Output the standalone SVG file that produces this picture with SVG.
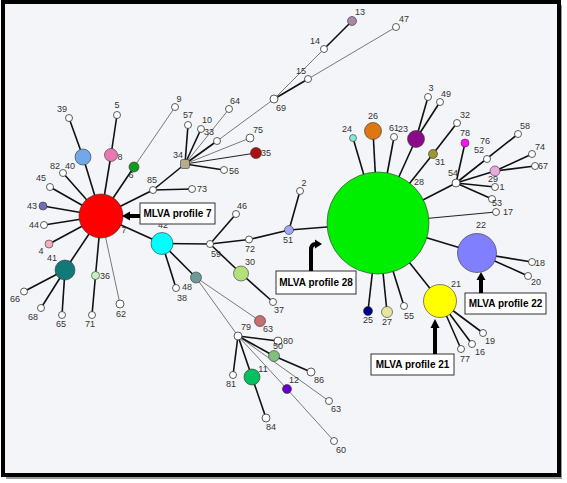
<svg xmlns="http://www.w3.org/2000/svg" width="567" height="483" viewBox="0 0 567 483">
<style>
.e{stroke:#111;stroke-width:1.6;fill:none}
.t{stroke:#444;stroke-width:0.7;fill:none}
.m{stroke:#222;stroke-width:1.1;fill:none}
.w{fill:#fff;stroke:#333;stroke-width:0.8}
.c{stroke:#333;stroke-width:0.6}
text{font-family:"Liberation Sans",Arial,sans-serif;font-size:9px;fill:#333;text-anchor:middle}
.bx{fill:#fff;stroke:#333;stroke-width:1}
.bt{font-size:10px;font-weight:bold;fill:#000}
.ar{fill:#000;stroke:none}
.as{stroke:#000;stroke-width:4;fill:none}
</style>
<rect x="6" y="5" width="556" height="474" fill="#999"/>
<rect x="3" y="2" width="556" height="473" fill="#f4f5f8" stroke="#000" stroke-width="4"/>
<g id="connectors">
<line class="e" x1="101" y1="216" x2="83" y2="157"/>
<line class="e" x1="83" y1="157" x2="69" y2="118"/>
<line class="e" x1="101" y1="216" x2="111" y2="155"/>
<line class="e" x1="111" y1="155" x2="117" y2="115"/>
<line class="e" x1="101" y1="216" x2="134" y2="167"/>
<line class="t" x1="134" y1="167" x2="175" y2="107"/>
<line class="e" x1="101" y1="216" x2="153" y2="190"/>
<line class="e" x1="153" y1="190" x2="185" y2="164"/>
<line class="e" x1="153" y1="190" x2="192" y2="189"/>
<line class="e" x1="101" y1="216" x2="63" y2="173"/>
<line class="e" x1="101" y1="216" x2="50" y2="187"/>
<line class="e" x1="101" y1="216" x2="43" y2="206"/>
<line class="e" x1="101" y1="216" x2="44" y2="225"/>
<line class="e" x1="101" y1="216" x2="49" y2="244"/>
<line class="e" x1="101" y1="216" x2="65" y2="270"/>
<line class="e" x1="65" y1="270" x2="24" y2="291.5"/>
<line class="e" x1="65" y1="270" x2="41" y2="308"/>
<line class="e" x1="65" y1="270" x2="62" y2="315"/>
<line class="e" x1="101" y1="216" x2="95.5" y2="275.5"/>
<line class="e" x1="95.5" y1="275.5" x2="92" y2="315"/>
<line class="t" x1="101" y1="216" x2="120" y2="304"/>
<line class="e" x1="101" y1="216" x2="162" y2="243.5"/>
<line class="e" x1="162" y1="243.5" x2="210" y2="244"/>
<line class="e" x1="162" y1="243.5" x2="176" y2="288"/>
<line class="e" x1="162" y1="243.5" x2="196" y2="277.5"/>
<line class="e" x1="210" y1="244" x2="236" y2="214"/>
<line class="e" x1="210" y1="244" x2="249" y2="239.5"/>
<line class="e" x1="249" y1="239.5" x2="289" y2="230"/>
<line class="e" x1="289" y1="230" x2="300" y2="191"/>
<line class="e" x1="289" y1="230" x2="378" y2="223"/>
<line class="e" x1="210" y1="244" x2="241" y2="273.5"/>
<line class="e" x1="241" y1="273.5" x2="273" y2="302"/>
<line class="t" x1="196" y1="277.5" x2="260" y2="321"/>
<line class="t" x1="196" y1="277.5" x2="238" y2="336"/>
<line class="e" x1="185" y1="164" x2="188" y2="125"/>
<line class="e" x1="185" y1="164" x2="201" y2="129"/>
<line class="e" x1="185" y1="164" x2="217" y2="141"/>
<line class="t" x1="185" y1="164" x2="229" y2="109"/>
<line class="t" x1="185" y1="164" x2="250" y2="138"/>
<line class="m" x1="185" y1="164" x2="256" y2="153"/>
<line class="e" x1="185" y1="164" x2="224" y2="170"/>
<line class="t" x1="217" y1="141" x2="274" y2="99"/>
<line class="t" x1="274" y1="99" x2="324" y2="49"/>
<line class="e" x1="324" y1="49" x2="352" y2="21"/>
<line class="e" x1="274" y1="99" x2="308" y2="79"/>
<line class="t" x1="308" y1="79" x2="396" y2="27"/>
<line class="e" x1="238" y1="336" x2="278" y2="341"/>
<line class="e" x1="238" y1="336" x2="274" y2="356"/>
<line class="e" x1="274" y1="356" x2="311" y2="372"/>
<line class="e" x1="238" y1="336" x2="233" y2="375"/>
<line class="e" x1="238" y1="336" x2="252" y2="377"/>
<line class="e" x1="252" y1="377" x2="266" y2="418"/>
<line class="t" x1="238" y1="336" x2="287" y2="389"/>
<line class="t" x1="287" y1="389" x2="334" y2="441"/>
<line class="t" x1="238" y1="336" x2="329" y2="401"/>
<line class="e" x1="378" y1="223" x2="353" y2="138"/>
<line class="e" x1="378" y1="223" x2="373" y2="131"/>
<line class="e" x1="378" y1="223" x2="394" y2="137"/>
<line class="e" x1="378" y1="223" x2="416" y2="139"/>
<line class="e" x1="416" y1="139" x2="428" y2="97"/>
<line class="e" x1="416" y1="139" x2="440" y2="102"/>
<line class="e" x1="378" y1="223" x2="433" y2="154"/>
<line class="e" x1="433" y1="154" x2="457" y2="123"/>
<line class="e" x1="378" y1="223" x2="456" y2="183"/>
<line class="e" x1="456" y1="183" x2="465" y2="143"/>
<line class="t" x1="456" y1="183" x2="487" y2="159"/>
<line class="e" x1="456" y1="183" x2="518" y2="134"/>
<line class="e" x1="456" y1="183" x2="495" y2="171"/>
<line class="e" x1="495" y1="171" x2="532" y2="154"/>
<line class="e" x1="495" y1="171" x2="535" y2="166"/>
<line class="e" x1="456" y1="183" x2="495" y2="187"/>
<line class="e" x1="456" y1="183" x2="492" y2="199"/>
<line class="m" x1="378" y1="223" x2="496" y2="212"/>
<line class="e" x1="378" y1="223" x2="477" y2="253"/>
<line class="e" x1="477" y1="253" x2="532" y2="262"/>
<line class="e" x1="477" y1="253" x2="528" y2="276"/>
<line class="e" x1="378" y1="223" x2="440" y2="301"/>
<line class="e" x1="440" y1="301" x2="483" y2="333"/>
<line class="e" x1="440" y1="301" x2="472" y2="344"/>
<line class="e" x1="440" y1="301" x2="461" y2="349"/>
<line class="e" x1="378" y1="223" x2="368" y2="311"/>
<line class="e" x1="378" y1="223" x2="387" y2="312"/>
<line class="e" x1="378" y1="223" x2="404" y2="306"/>
</g>
<g id="n7"><circle cx="101" cy="216" r="22" fill="#ff0000" class="c"/><text x="124" y="233">7</text></g>
<g id="n40"><circle cx="83" cy="157" r="8" fill="#70a8e8" class="c"/><text x="70" y="169">40</text></g>
<g id="n8"><circle cx="111" cy="155" r="6.5" fill="#e878b0" class="c"/><text x="120" y="160">8</text></g>
<g id="n39"><circle cx="69" cy="118" r="3.5" class="w"/><text x="62" y="112">39</text></g>
<g id="n5"><circle cx="117" cy="115" r="3.5" class="w"/><text x="117" y="108">5</text></g>
<g id="n9"><circle cx="175" cy="107" r="3.5" class="w"/><text x="179" y="102">9</text></g>
<g id="n6"><circle cx="134" cy="167" r="5" fill="#119922" class="c"/><text x="131" y="178">6</text></g>
<g id="n85"><circle cx="153" cy="190" r="3.5" class="w"/><text x="152" y="183">85</text></g>
<g id="n73"><circle cx="192" cy="189" r="3.5" class="w"/><text x="202" y="192">73</text></g>
<g id="n82"><circle cx="63" cy="173" r="3.5" class="w"/><text x="55" y="169">82</text></g>
<g id="n45"><circle cx="50" cy="187" r="3.5" class="w"/><text x="41" y="181">45</text></g>
<g id="n43"><circle cx="43" cy="206" r="4" fill="#7070b8" class="c"/><text x="32" y="209">43</text></g>
<g id="n44"><circle cx="44" cy="225" r="3.5" class="w"/><text x="34" y="228">44</text></g>
<g id="n4"><circle cx="49" cy="244" r="4" fill="#f4b0c0" class="c"/><text x="41" y="254">4</text></g>
<g id="n41"><circle cx="65" cy="270" r="10" fill="#117a78" class="c"/><text x="52" y="261">41</text></g>
<g id="n36"><circle cx="95.5" cy="275.5" r="4" fill="#c4f2bc" class="c"/><text x="105" y="279">36</text></g>
<g id="n66"><circle cx="24" cy="291.5" r="3.5" class="w"/><text x="15" y="302">66</text></g>
<g id="n68"><circle cx="41" cy="308" r="3.5" class="w"/><text x="33" y="320">68</text></g>
<g id="n65"><circle cx="62" cy="315" r="3.5" class="w"/><text x="61" y="327">65</text></g>
<g id="n71"><circle cx="92" cy="315" r="3.5" class="w"/><text x="90" y="327">71</text></g>
<g id="n62"><circle cx="120" cy="304" r="4" class="w"/><text x="121" y="317">62</text></g>
<g id="n42"><circle cx="162" cy="243.5" r="11" fill="#00ffff" class="c"/><text x="163" y="228">42</text></g>
<g id="n38"><circle cx="176" cy="288" r="3.5" class="w"/><text x="187" y="290">48</text><text x="182" y="301">38</text></g>
<g id="n48"><circle cx="196" cy="277.5" r="5.5" fill="#6f9a9a" class="c"/></g>
<g id="n59"><circle cx="210" cy="244" r="3.5" class="w"/><text x="216" y="257">59</text></g>
<g id="n46"><circle cx="236" cy="214" r="3.5" class="w"/><text x="242" y="209">46</text></g>
<g id="n72"><circle cx="249" cy="239.5" r="3.5" class="w"/><text x="250" y="252">72</text></g>
<g id="n51"><circle cx="289" cy="230" r="4.5" fill="#a4a4f0" class="c"/><text x="288" y="243">51</text></g>
<g id="n2"><circle cx="300" cy="191" r="3.5" class="w"/><text x="304" y="186">2</text></g>
<g id="n30"><circle cx="241" cy="273.5" r="7.5" fill="#b4e078" class="c"/><text x="250" y="265">30</text></g>
<g id="n37"><circle cx="273" cy="302" r="3.5" class="w"/><text x="279" y="313">37</text></g>
<g id="n63a"><circle cx="260" cy="321" r="5.5" fill="#c87070" class="c"/><text x="268" y="332">63</text></g>
<g id="n79"><circle cx="238" cy="336" r="4" class="w"/><text x="246" y="330">79</text></g>
<g id="n80"><circle cx="278" cy="341" r="4" class="w"/><text x="278" y="349">50</text><text x="288" y="344">80</text></g>
<g id="n50"><circle cx="274" cy="356" r="5.5" fill="#80c080" class="c"/></g>
<g id="n86"><circle cx="311" cy="372" r="4" class="w"/><text x="319" y="383">86</text></g>
<g id="n11"><circle cx="252" cy="377" r="8" fill="#00c060" class="c"/><text x="263" y="372">11</text></g>
<g id="n81"><circle cx="233" cy="375" r="3.5" class="w"/><text x="231" y="387">81</text></g>
<g id="n84"><circle cx="266" cy="418" r="4" class="w"/><text x="271" y="430">84</text></g>
<g id="n12"><circle cx="287" cy="389" r="4.5" fill="#6600cc" class="c"/><text x="294" y="383">12</text></g>
<g id="n63b"><circle cx="329" cy="401" r="3.5" class="w"/><text x="336" y="412">63</text></g>
<g id="n60"><circle cx="334" cy="441" r="3.5" class="w"/><text x="341" y="453">60</text></g>
<g id="n34"><rect x="180.5" y="159.5" width="9" height="9" rx="2" fill="#b4ac8c" class="c"/><text x="178" y="158">34</text></g>
<g id="n57"><circle cx="188" cy="125" r="3.5" class="w"/><text x="188" y="118">57</text></g>
<g id="n10"><circle cx="201" cy="129" r="3.5" class="w"/><text x="207" y="123">10</text></g>
<g id="n33"><circle cx="217" cy="141" r="3.5" class="w"/><text x="209" y="135">33</text></g>
<g id="n64"><circle cx="229" cy="109" r="3.5" class="w"/><text x="235" y="104">64</text></g>
<g id="n75"><circle cx="250" cy="138" r="4" class="w"/><text x="258" y="133">75</text></g>
<g id="n35"><circle cx="256" cy="153" r="5.5" fill="#aa1111" class="c"/><text x="266" y="156">35</text></g>
<g id="n56"><circle cx="224" cy="170" r="3.5" class="w"/><text x="234" y="174">56</text></g>
<g id="n69"><circle cx="274" cy="99" r="4" class="w"/><text x="281" y="111">69</text></g>
<g id="n15"><circle cx="308" cy="79" r="3.5" class="w"/><text x="301" y="74">15</text></g>
<g id="n14"><circle cx="324" cy="49" r="3.5" class="w"/><text x="315" y="44">14</text></g>
<g id="n13"><circle cx="352" cy="21" r="4.5" fill="#a888a8" class="c"/><text x="360" y="15">13</text></g>
<g id="n47"><circle cx="396" cy="27" r="3.5" class="w"/><text x="404" y="22">47</text></g>
<g id="n28"><circle cx="378" cy="223" r="51" fill="#00ee00" class="c"/><text x="419" y="185">28</text></g>
<g id="n24"><circle cx="353" cy="138" r="3.5" fill="#88e8d8" class="c"/><text x="347" y="132">24</text></g>
<g id="n26"><circle cx="373" cy="131" r="8.5" fill="#dd7711" class="c"/><text x="373" y="119">26</text></g>
<g id="n61"><circle cx="394" cy="137" r="3.5" class="w"/><text x="394" y="131">61</text></g>
<g id="n23"><circle cx="416" cy="139" r="8.5" fill="#8a0a8a" class="c"/><text x="403" y="132">23</text></g>
<g id="n3"><circle cx="428" cy="97" r="3.5" class="w"/><text x="431" y="91">3</text></g>
<g id="n49"><circle cx="440" cy="102" r="3.5" class="w"/><text x="446" y="97">49</text></g>
<g id="n31"><circle cx="433" cy="154" r="4.5" fill="#9a9a30" class="c"/><text x="440" y="165">31</text></g>
<g id="n32"><circle cx="457" cy="123" r="3.5" class="w"/><text x="465" y="118">32</text></g>
<g id="n78"><circle cx="465" cy="143" r="4" fill="#ff10ff" class="c"/><text x="465" y="136">78</text></g>
<g id="n52"><circle cx="487" cy="159" r="3.5" class="w"/><text x="485" y="144">76</text><text x="479" y="153">52</text></g>
<g id="n54"><circle cx="456" cy="183" r="4" class="w"/><text x="453" y="176">54</text></g>
<g id="n58"><circle cx="518" cy="134" r="3.5" class="w"/><text x="525" y="129">58</text></g>
<g id="n74"><circle cx="532" cy="154" r="3.5" class="w"/><text x="540" y="150">74</text></g>
<g id="n29"><circle cx="495" cy="171" r="5" fill="#e8a8e0" class="c"/><text x="493" y="182">29</text></g>
<g id="n67"><circle cx="535" cy="166" r="3.5" class="w"/><text x="543" y="169">67</text></g>
<g id="n1"><circle cx="495" cy="187" r="3.5" class="w"/><text x="502" y="190">1</text></g>
<g id="n53"><circle cx="492" cy="199" r="3.5" class="w"/><text x="497" y="206">53</text></g>
<g id="n17"><circle cx="496" cy="212" r="3.5" class="w"/><text x="508" y="215">17</text></g>
<g id="n22"><circle cx="477" cy="253" r="19.5" fill="#8080ff" class="c"/><text x="481" y="228">22</text></g>
<g id="n18"><circle cx="532" cy="262" r="3.5" class="w"/><text x="540" y="266">18</text></g>
<g id="n20"><circle cx="528" cy="276" r="3.5" class="w"/><text x="536" y="285">20</text></g>
<g id="n21"><circle cx="440" cy="301" r="16.5" fill="#ffff00" class="c"/><text x="456" y="287">21</text></g>
<g id="n19"><circle cx="483" cy="333" r="3.5" class="w"/><text x="490" y="344">19</text></g>
<g id="n16"><circle cx="472" cy="344" r="3.5" class="w"/><text x="480" y="355">16</text></g>
<g id="n77"><circle cx="461" cy="349" r="3.5" class="w"/><text x="465" y="362">77</text></g>
<g id="n25"><circle cx="368" cy="311" r="4.5" fill="#000088" class="c"/><text x="368" y="323">25</text></g>
<g id="n27"><circle cx="387" cy="312" r="5.5" fill="#e6e6a0" class="c"/><text x="387" y="325">27</text></g>
<g id="n55"><circle cx="404" cy="306" r="3.5" class="w"/><text x="409" y="319">55</text></g>
<g id="profile7">
<rect class="bx" x="140" y="203" width="75" height="21"/>
<text class="bt" x="177.5" y="217">MLVA profile 7</text>
<line class="as" x1="140" y1="216" x2="129" y2="216"/>
<polygon class="ar" points="130,211.5 122,216 130,220.5"/>
</g>
<g id="profile28">
<rect class="bx" x="276" y="271" width="80" height="23"/>
<text class="bt" x="316" y="286">MLVA profile 28</text>
<path class="as" d="M311,271 V250 Q311,244 316,244"/>
<polygon class="ar" points="315,239.5 322,244 315,248.5"/>
</g>
<g id="profile22">
<rect class="bx" x="465" y="293" width="81" height="21"/>
<text class="bt" x="505.5" y="307">MLVA profile 22</text>
<line class="as" x1="481" y1="293" x2="481" y2="279"/>
<polygon class="ar" points="476.5,280 481,272 485.5,280"/>
</g>
<g id="profile21">
<rect class="bx" x="371" y="354" width="83" height="21"/>
<text class="bt" x="412.5" y="368">MLVA profile 21</text>
<line class="as" x1="435" y1="354" x2="435" y2="327"/>
<polygon class="ar" points="430.5,328 435,319 439.5,328"/>
</g>
</svg>
